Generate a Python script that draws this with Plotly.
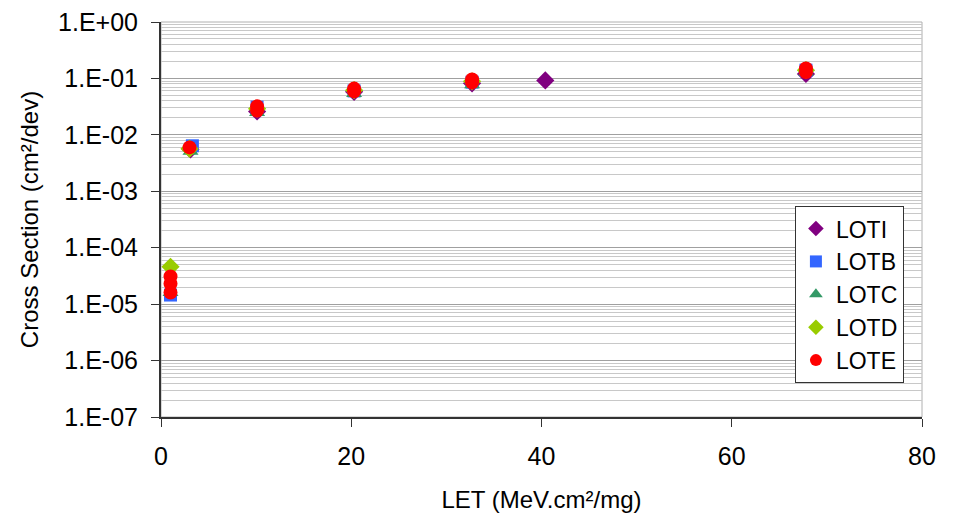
import plotly.graph_objects as go

# LET values (MeV.cm2/mg) and cross sections (cm2/dev) per lot
loti_x = [3.1, 10.1, 20.3, 32.7, 40.4, 67.8]
loti_y = [5.5e-3, 2.6e-2, 5.8e-2, 8.2e-2, 9.2e-2, 1.2e-1]

lotb_x = [1.0, 3.3, 10.1, 20.3, 32.7, 67.8]
lotb_y = [1.45e-5, 6.4e-3, 3.1e-2, 6.0e-2, 8.6e-2, 1.4e-1]

lotc_x = [1.0, 3.1, 10.1, 20.3, 32.7, 67.8]
lotc_y = [1.6e-5, 5.1e-3, 2.5e-2, 5.4e-2, 7.7e-2, 1.3e-1]

lotd_x = [1.0, 3.0, 10.1, 20.3, 32.7, 67.8]
lotd_y = [4.6e-5, 5.7e-3, 2.9e-2, 6.2e-2, 8.9e-2, 1.4e-1]

lote_x = [1.0, 1.0, 1.0, 3.0, 10.1, 10.1, 20.3, 20.3, 32.7, 32.7, 67.8, 67.8]
lote_y = [3.1e-5, 2.3e-5, 1.6e-5, 6.0e-3, 3.2e-2, 2.7e-2, 6.6e-2, 5.9e-2, 9.6e-2, 8.5e-2, 1.5e-1, 1.3e-1]

y_tickvals = [1e-7, 1e-6, 1e-5, 1e-4, 1e-3, 1e-2, 1e-1, 1e0]
y_ticktext = ['1.E-07', '1.E-06', '1.E-05', '1.E-04', '1.E-03', '1.E-02', '1.E-01', '1.E+00']

minor_vals = [m * 10 ** e for e in range(-7, 0) for m in range(2, 10)]

fig = go.Figure()
fig.add_trace(go.Scatter(x=loti_x, y=loti_y, mode='markers', name='LOTI',
                         marker=dict(symbol='diamond', size=14, color='#800080')))
fig.add_trace(go.Scatter(x=lotb_x, y=lotb_y, mode='markers', name='LOTB',
                         marker=dict(symbol='square', size=13, color='#3366FF')))
fig.add_trace(go.Scatter(x=lotc_x, y=lotc_y, mode='markers', name='LOTC',
                         marker=dict(symbol='triangle-up', size=14, color='#339966')))
fig.add_trace(go.Scatter(x=lotd_x, y=lotd_y, mode='markers', name='LOTD',
                         marker=dict(symbol='diamond', size=14, color='#99CC00')))
fig.add_trace(go.Scatter(x=lote_x, y=lote_y, mode='markers', name='LOTE',
                         marker=dict(symbol='circle', size=14, color='#FF0000')))

# the page body adds an 8px offset, margins below account for it
fig.update_layout(
    width=955,
    height=518,
    margin=dict(l=153, r=41, t=14, b=109),
    paper_bgcolor='white',
    plot_bgcolor='white',
    font=dict(family='Liberation Sans, Arial', size=24, color='black'),
    showlegend=True,
    legend=dict(
        x=0.833, y=0.534, xanchor='left', yanchor='top',
        bgcolor='white', bordercolor='#333333', borderwidth=1,
        font=dict(size=23), itemsizing='constant',
        tracegroupgap=0,
    ),
    xaxis=dict(
        title=dict(text='LET (MeV.cm²/mg)', font=dict(size=24), standoff=22),
        range=[0, 80],
        tickvals=[0, 20, 40, 60, 80],
        tickfont=dict(size=25),
        ticklabelstandoff=8,
        ticks='outside', ticklen=8, tickcolor='#333333',
        showline=True, linecolor='#333333', linewidth=2,
        showgrid=False, zeroline=False,
        automargin=False,
    ),
    yaxis=dict(
        title=dict(text='Cross Section (cm²/dev)', font=dict(size=24), standoff=13),
        type='log',
        range=[-7, 0],
        tickvals=y_tickvals,
        ticktext=y_ticktext,
        tickfont=dict(size=25),
        ticklabelstandoff=8,
        ticklabeloverflow='allow',
        ticks='outside', ticklen=8, tickcolor='#333333',
        showline=True, linecolor='#333333', linewidth=2,
        showgrid=True, gridcolor='#a0a0a0', gridwidth=1,
        minor=dict(tickvals=minor_vals, showgrid=True, gridcolor='#c8c8c8', gridwidth=1, ticks=''),
        zeroline=False,
        automargin=False,
    ),
    shapes=[dict(type='rect', xref='paper', yref='paper', x0=0, y0=0, x1=1, y1=1,
                 line=dict(color='#b0b0b0', width=1), layer='below')],
)

fig.write_html("out.html")
